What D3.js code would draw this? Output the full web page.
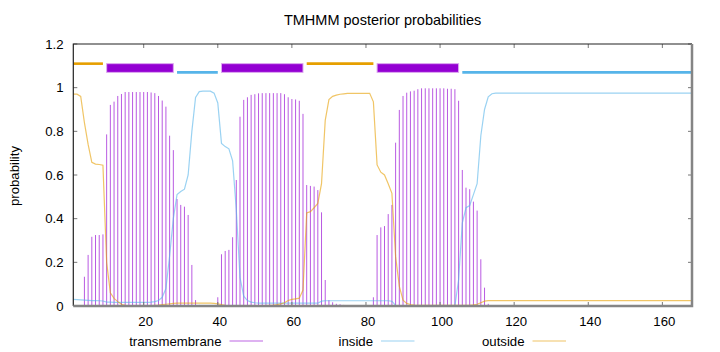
<!DOCTYPE html>
<html>
<head>
<meta charset="utf-8">
<script src="https://cdn.jsdelivr.net/npm/d3@7"></script>
<style>
  body { margin: 0; background: #fff; }
  text { font-family: "Liberation Sans", Arial, sans-serif; fill: #000; }
</style>
</head>
<body>
<script>
const width = 720;
const height = 352;

const title = "TMHMM posterior probabilities";
const yLabel = "probability";
const xTicks = [20, 40, 60, 80, 100, 120, 140, 160];
const yTicks = [0, 0.2, 0.4, 0.6, 0.8, 1, 1.2];
const seriesNames = ["transmembrane", "inside", "outside"];

// posterior probability per residue 1..168
const tm = [
  0, 0, 0.002, 0.134, 0.234, 0.317, 0.325, 0.325, 0.328, 0.786,
  0.921, 0.936, 0.962, 0.971, 0.98, 0.98, 0.98, 0.98, 0.98, 0.98,
  0.98, 0.978, 0.975, 0.962, 0.941, 0.913, 0.78, 0.714, 0.49, 0.463,
  0.455, 0.417, 0.188, 0.027, 0.005, 0.003, 0.002, 0.002, 0.003, 0.04,
  0.237, 0.252, 0.257, 0.315, 0.577, 0.867, 0.944, 0.956, 0.967, 0.97,
  0.974, 0.975, 0.975, 0.975, 0.975, 0.975, 0.975, 0.97, 0.956, 0.948,
  0.946, 0.94, 0.88, 0.554, 0.55, 0.547, 0.531, 0.429, 0.119, 0.027,
  0.017, 0.01, 0.008, 0.005, 0.002, 0.002, 0.002, 0.002, 0.002, 0.004,
  0.002, 0.04, 0.325, 0.36, 0.366, 0.421, 0.463, 0.748, 0.898, 0.962,
  0.977, 0.983, 0.986, 0.993, 0.997, 0.997, 0.997, 0.997, 0.997, 0.997,
  0.997, 0.995, 0.995, 0.993, 0.94, 0.623, 0.542, 0.535, 0.478, 0.437,
  0.214, 0.084, 0.01, 0.004, 0.003, 0.002, 0.001, 0, 0, 0,
  0, 0, 0, 0, 0, 0, 0, 0, 0, 0,
  0, 0, 0, 0, 0, 0, 0, 0, 0, 0,
  0, 0, 0, 0, 0, 0, 0, 0, 0, 0,
  0, 0, 0, 0, 0, 0, 0, 0, 0, 0,
  0, 0, 0, 0, 0, 0, 0, 0
];

const inside = [
  0.03, 0.029, 0.028, 0.027, 0.026, 0.025, 0.025, 0.024, 0.023, 0.018,
  0.018, 0.017, 0.017, 0.017, 0.017, 0.017, 0.017, 0.017, 0.017, 0.017,
  0.017, 0.018, 0.02, 0.025, 0.04, 0.08, 0.23, 0.4, 0.51, 0.524,
  0.535, 0.6, 0.8, 0.955, 0.982, 0.984, 0.984, 0.984, 0.975, 0.93,
  0.745, 0.73, 0.72, 0.665, 0.44, 0.13, 0.045, 0.025, 0.018, 0.015,
  0.013, 0.013, 0.013, 0.013, 0.013, 0.013, 0.013, 0.013, 0.013, 0.013,
  0.013, 0.013, 0.013, 0.013, 0.013, 0.013, 0.013, 0.022, 0.024, 0.024,
  0.024, 0.024, 0.024, 0.024, 0.024, 0.024, 0.024, 0.024, 0.024, 0.024,
  0.024, 0.024, 0.024, 0.024, 0.024, 0.024, 0.022, 0.003, 0, 0,
  0, 0, 0, 0, 0, 0, 0, 0, 0, 0,
  0, 0, 0, 0, 0.12, 0.38, 0.45, 0.46, 0.51, 0.56,
  0.78, 0.9, 0.958, 0.972, 0.975, 0.975, 0.975, 0.975, 0.975, 0.975,
  0.975, 0.975, 0.975, 0.975, 0.975, 0.975, 0.975, 0.975, 0.975, 0.975,
  0.975, 0.975, 0.975, 0.975, 0.975, 0.975, 0.975, 0.975, 0.975, 0.975,
  0.975, 0.975, 0.975, 0.975, 0.975, 0.975, 0.975, 0.975, 0.975, 0.975,
  0.975, 0.975, 0.975, 0.975, 0.975, 0.975, 0.975, 0.975, 0.975, 0.975,
  0.975, 0.975, 0.975, 0.975, 0.975, 0.975, 0.975, 0.975
];

const outside = [
  0.97, 0.97, 0.96, 0.84, 0.74, 0.658, 0.65, 0.648, 0.645, 0.2,
  0.06, 0.035, 0.02, 0.008, 0.003, 0.002, 0.002, 0.002, 0.002, 0.002,
  0.002, 0.002, 0.003, 0.004, 0.006, 0.008, 0.01, 0.012, 0.013, 0.013,
  0.013, 0.013, 0.013, 0.013, 0.013, 0.013, 0.013, 0.013, 0.012, 0.01,
  0.006, 0.003, 0.002, 0.002, 0.002, 0.002, 0.002, 0.002, 0.002, 0.002,
  0.002, 0.002, 0.002, 0.003, 0.004, 0.006, 0.01, 0.015, 0.025, 0.03,
  0.033, 0.036, 0.073, 0.426, 0.432, 0.45, 0.47, 0.56, 0.85, 0.945,
  0.96, 0.966, 0.97, 0.972, 0.974, 0.974, 0.974, 0.974, 0.974, 0.974,
  0.974, 0.935, 0.646, 0.613, 0.6, 0.56, 0.516, 0.226, 0.09, 0.027,
  0.012, 0.007, 0.004, 0.003, 0.003, 0.003, 0.003, 0.003, 0.003, 0.003,
  0.003, 0.003, 0.003, 0.003, 0.003, 0.003, 0.003, 0.003, 0.005, 0.008,
  0.015, 0.022, 0.025, 0.025, 0.025, 0.025, 0.025, 0.025, 0.025, 0.025,
  0.025, 0.025, 0.025, 0.025, 0.025, 0.025, 0.025, 0.025, 0.025, 0.025,
  0.025, 0.025, 0.025, 0.025, 0.025, 0.025, 0.025, 0.025, 0.025, 0.025,
  0.025, 0.025, 0.025, 0.025, 0.025, 0.025, 0.025, 0.025, 0.025, 0.025,
  0.025, 0.025, 0.025, 0.025, 0.025, 0.025, 0.025, 0.025, 0.025, 0.025,
  0.025, 0.025, 0.025, 0.025, 0.025, 0.025, 0.025, 0.025
];

// predicted topology segments [start, end]
const outsideSegs = [[1, 9], [64, 82]];
const insideSegs = [[29, 40], [106, 168]];
const tmSegs = [[10, 28], [41, 63], [83, 105]];

const colors = { tm: "#9400d3", inside: "#56b4e9", outside: "#e69f00" };

const x = d3.scaleLinear().domain([1, 168]).range([73.3, 692]);
const y = d3.scaleLinear().domain([0, 1.2]).range([306, 44]);

const svg = d3
  .select("body")
  .append("svg")
  .attr("width", width)
  .attr("height", height)
  .attr("viewBox", [0, 0, width, height]);

// impulses for transmembrane
svg
  .append("g")
  .selectAll("line")
  .data(tm.map((v, i) => [i + 1, v]).filter((d) => d[1] > 0))
  .join("line")
  .attr("x1", (d) => x(d[0]))
  .attr("x2", (d) => x(d[0]))
  .attr("y1", y(0))
  .attr("y2", (d) => y(d[1]))
  .attr("stroke", colors.tm)
  .attr("stroke-opacity", 0.65)
  .attr("stroke-width", 1);

const line = d3
  .line()
  .x((d, i) => x(i + 1))
  .y((d) => y(d));

svg
  .append("path")
  .attr("d", line(inside))
  .attr("fill", "none")
  .attr("stroke", colors.inside)
  .attr("stroke-opacity", 0.6)
  .attr("stroke-width", 1.2);

svg
  .append("path")
  .attr("d", line(outside))
  .attr("fill", "none")
  .attr("stroke", colors.outside)
  .attr("stroke-opacity", 0.6)
  .attr("stroke-width", 1.2);

// topology bars on top
svg
  .append("g")
  .selectAll("line")
  .data(outsideSegs)
  .join("line")
  .attr("x1", (d) => x(d[0]))
  .attr("x2", (d) => x(d[1]))
  .attr("y1", y(1.11))
  .attr("y2", y(1.11))
  .attr("stroke", colors.outside)
  .attr("stroke-width", 2.6);

svg
  .append("g")
  .selectAll("line")
  .data(insideSegs)
  .join("line")
  .attr("x1", (d) => x(d[0]))
  .attr("x2", (d) => x(d[1]))
  .attr("y1", y(1.07))
  .attr("y2", y(1.07))
  .attr("stroke", colors.inside)
  .attr("stroke-width", 2.6);

svg
  .append("g")
  .selectAll("rect")
  .data(tmSegs)
  .join("rect")
  .attr("x", (d) => x(d[0]))
  .attr("width", (d) => x(d[1]) - x(d[0]))
  .attr("y", y(1.11))
  .attr("height", y(1.07) - y(1.11))
  .attr("fill", colors.tm)
  .attr("stroke", "#dca8f0")
  .attr("stroke-width", 1);

// border and ticks
const [x0, x1] = x.range();
const [yb, yt] = y.range();

svg
  .append("g")
  .attr("stroke", "#777")
  .attr("stroke-width", 1)
  .call((g) =>
    g
      .selectAll(".xt")
      .data(xTicks)
      .join("path")
      .attr("d", (d) => `M${x(d)},${yb}v-4M${x(d)},${yt}v4`)
  )
  .call((g) =>
    g
      .selectAll(".yt")
      .data(yTicks)
      .join("path")
      .attr("d", (d) => `M${x0},${y(d)}h4M${x1},${y(d)}h-4`)
  );

svg
  .append("path")
  .attr("d", `M${x1},${yt}H${x0}V${yb}`)
  .attr("fill", "none")
  .attr("stroke", "#222")
  .attr("stroke-width", 1.2);

svg
  .append("path")
  .attr("d", `M${x0},${yb}H${x1}V${yt}`)
  .attr("fill", "none")
  .attr("stroke", "#858585")
  .attr("stroke-width", 2.5);

// tick labels
svg
  .append("g")
  .attr("font-size", 13.2)
  .attr("text-anchor", "middle")
  .selectAll("text")
  .data(xTicks)
  .join("text")
  .attr("x", (d) => x(d) + 2)
  .attr("y", 326)
  .text((d) => d);

svg
  .append("g")
  .attr("font-size", 13.2)
  .attr("text-anchor", "end")
  .selectAll("text")
  .data(yTicks)
  .join("text")
  .attr("x", 63.5)
  .attr("y", (d) => y(d))
  .attr("dy", "0.36em")
  .text((d) => d3.format("~g")(d));

svg
  .append("text")
  .attr("x", (x0 + x1) / 2)
  .attr("y", 25)
  .attr("text-anchor", "middle")
  .attr("font-size", 14.5)
  .text(title);

svg
  .append("text")
  .attr("transform", `translate(19,176) rotate(-90)`)
  .attr("text-anchor", "middle")
  .attr("font-size", 13.2)
  .text(yLabel);

// legend
const legendEnds = [221.5, 373, 524.5];
const legendColors = ["#9400d3", "#56b4e9", "#e69f00"];

const legend = svg
  .append("g")
  .selectAll("g")
  .data(seriesNames)
  .join("g");

legend
  .append("text")
  .attr("x", (d, i) => legendEnds[i])
  .attr("y", 346)
  .attr("text-anchor", "end")
  .attr("font-size", 13.2)
  .text((d) => d);

legend
  .append("line")
  .attr("x1", (d, i) => legendEnds[i] + 8)
  .attr("x2", (d, i) => legendEnds[i] + 41.5)
  .attr("y1", 341)
  .attr("y2", 341)
  .attr("stroke", (d, i) => legendColors[i])
  .attr("stroke-opacity", 0.6)
  .attr("stroke-width", 1.2);
</script>
</body>
</html>
